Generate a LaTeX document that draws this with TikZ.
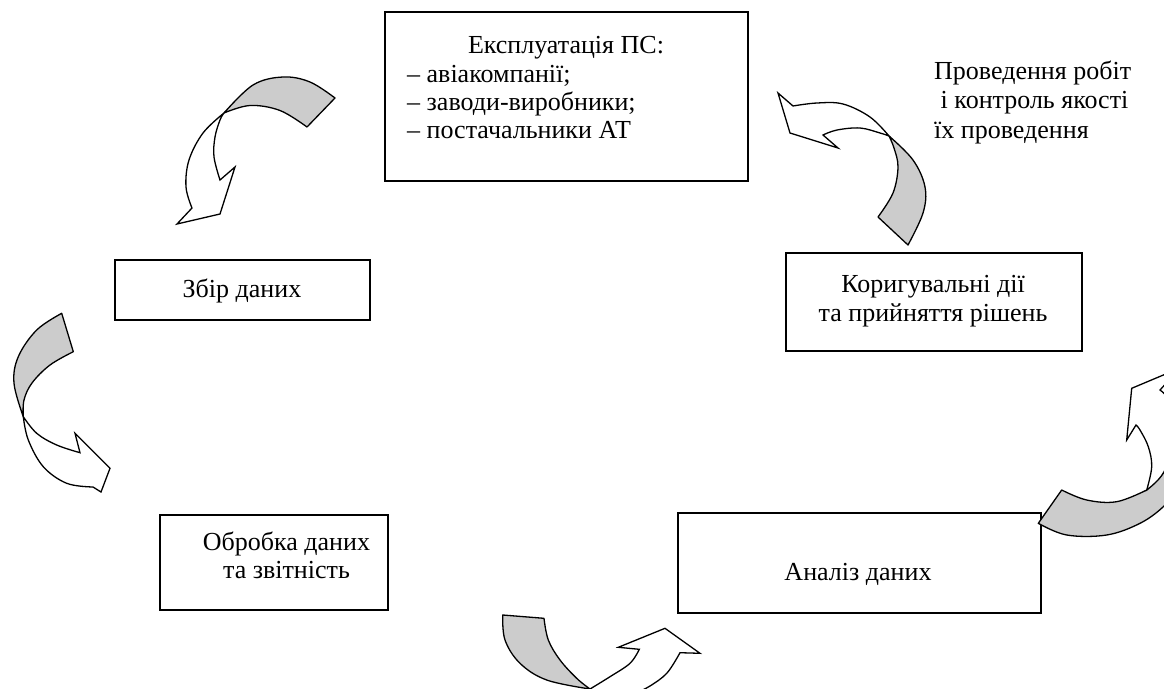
\documentclass[tikz,border=0pt]{standalone}
\usepackage{fontspec}
\setmainfont{Liberation Serif}
\definecolor{arrgray}{RGB}{204,204,204}
\begin{document}
\begin{tikzpicture}[x=1pt,y=-1pt,
  box/.style={draw, line width=1.5pt, inner sep=0pt},
  txt/.style={font=\fontsize{26}{29}\selectfont, inner sep=0pt, anchor=base},
  txtl/.style={txt, anchor=base west},
  back/.style={fill=arrgray, draw=black, line width=1.3pt, line join=round},
  front/.style={fill=white, draw=black, line width=1.3pt, line join=miter},
  sm/.style={smooth, tension=0.6}]
\useasboundingbox (0,0) rectangle (1164,688);
\clip (0,0) rectangle (1164,688);

% boxes
\node[box, minimum width=363pt, minimum height=169pt] (expl) at (566.5,96.5) {};
\node[box, minimum width=255pt, minimum height=60pt] (zbir) at (242.5,290) {};
\node[box, minimum width=296pt, minimum height=98pt] (kor) at (934,302) {};
\node[box, minimum width=228pt, minimum height=95pt] (obr) at (274,562.5) {};
\node[box, minimum width=363pt, minimum height=100pt] (anal) at (859.5,563) {};

% texts
\node[txt] (t1) at (566,53) {Експлуатація ПС:};
\node[txtl] (t2) at (407,82) {– авіакомпанії;};
\node[txtl] (t3) at (407,110) {– заводи-виробники;};
\node[txtl] (t4) at (407,138.5) {– постачальники АТ};
\node[txt] (t5) at (242,297) {Збір даних};
\node[txt] (t6) at (933,292) {Коригувальні дії};
\node[txt] (t7) at (933,321) {та прийняття рішень};
\node[txt] (t8) at (286.5,550) {Обробка даних};
\node[txt] (t9) at (286.5,578) {та звітність};
\node[txt] (t10) at (858,580) {Аналіз даних};
\node[txtl] (t11) at (934,79) {Проведення робіт};
\node[txtl] (t12) at (934,108) {\ і контроль якості};
\node[txtl] (t13) at (934,138) {їх проведення};

% arrow 1 (top left)
\filldraw[back] (335,98) -- (307,127) -- plot[sm] coordinates {(307,127) (280,110.5) (250,105.5) (224,113)}
  -- plot[sm] coordinates {(224,113) (253,85) (283,77) (310,82) (335,98)} -- cycle;
\filldraw[front] (224,113) -- plot[sm] coordinates {(224,113) (203,133) (189,160) (186,187) (192,208)}
  -- (177,224) -- (220,214) -- (235,167) -- (220,180)
  -- plot[sm] coordinates {(220,180) (214,157) (215,137) (220,120) (224,113)} -- cycle;

% arrow 2 (top right)
\filldraw[back] (878,217) -- (908,245) -- plot[sm] coordinates {(908,245) (923,213) (925,187) (913,160) (889,136)}
  -- plot[sm] coordinates {(889,136) (894,148) (898,167) (893,193) (878,217)} -- cycle;
\filldraw[front] (889,136) -- plot[sm] coordinates {(889,136) (870,117) (843,104) (817,103) (793,106)}
  -- (778,93) -- (790,133) -- (838,148) -- (823,135)
  -- plot[sm] coordinates {(823,135) (837,130) (860,128) (880,133) (889,136)} -- cycle;

% arrow 3 (left)
\filldraw[back] (61.7,313.3) -- (73.3,351.7) -- plot[sm] coordinates {(73.3,351.7) (50,365) (32,383) (24,400) (23.3,416.7)}
  -- plot[sm] coordinates {(23.3,416.7) (14,383.3) (18.3,356.7) (36.7,330) (61.7,313.3)} -- cycle;
\filldraw[front] (23.3,416.7) -- plot[sm] coordinates {(23.3,416.7) (36.7,433.3) (56.7,445) (80,452.7)}
  -- (75,433.3) -- (110,468.3) -- (101,492) -- (93,487)
  -- plot[sm] coordinates {(93,487) (66.7,483.3) (43.3,466.7) (28.3,440) (23.3,416.7)} -- cycle;

% arrow 4 (bottom)
\filldraw[back] (502.7,615) -- (544,618.3) -- plot[sm] coordinates {(544,618.3) (548.3,640) (560,660) (576.7,678.3) (590,689)}
  -- plot[sm] coordinates {(590,689) (546.7,680) (520,663.3) (505,640) (502.7,615)} -- cycle;
\filldraw[front] (590,689) -- plot[sm] coordinates {(590,689) (610,676.7) (630,663.3) (639.3,649.3)}
  -- (618.3,647.3) -- (665,628.3) -- (700,653.3) -- (680,652.7)
  -- plot[sm] coordinates {(680,652.7) (667,673) (650,686) (636,693)} -- (612,697) -- cycle;

% arrow 5 (bottom right)
\filldraw[back] (1061.7,490) -- (1038.3,523.3) -- plot[sm] coordinates {(1038.3,523.3) (1066.7,535) (1106.7,535) (1140,523.3) (1163.3,506.7) (1178,488) (1185,465)}
  -- (1175,455) -- (1163.3,473) -- (1146.7,490)
  -- plot[sm] coordinates {(1146.7,490) (1116.7,501.7) (1086.7,500) (1061.7,490)} -- cycle;
\filldraw[front] (1146.7,490) -- plot[sm] coordinates {(1146.7,490) (1151.7,466.7) (1148.3,446.7) (1140,430) (1136,425)}
  -- (1126.7,440) -- (1131.7,388.3) -- (1180,368) -- (1160,390)
  -- plot[sm] coordinates {(1160,390) (1172,405) (1175,440) (1163.3,473) (1146.7,490)} -- cycle;
\end{tikzpicture}
\end{document}
